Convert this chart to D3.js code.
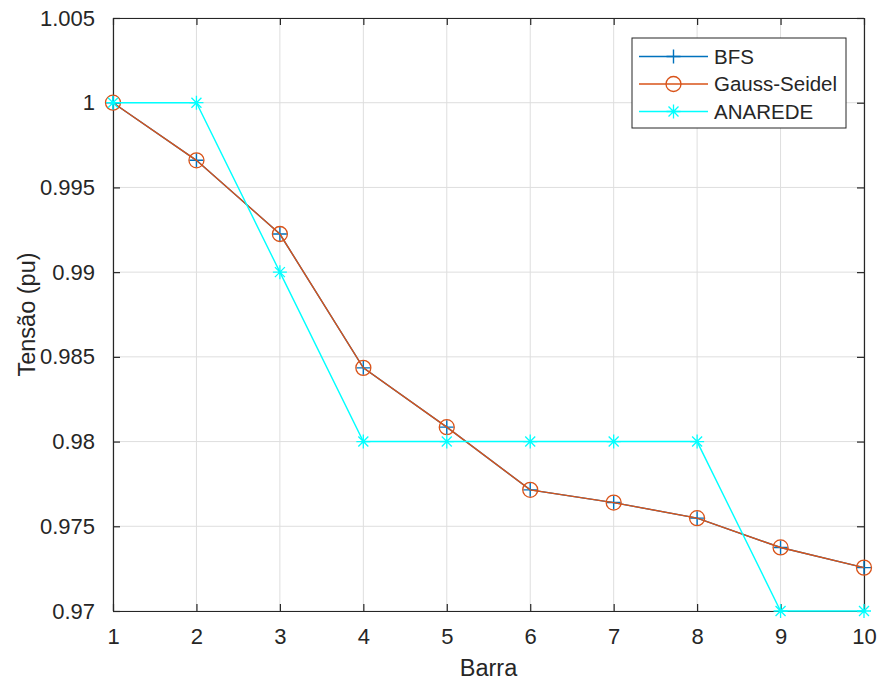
<!DOCTYPE html>
<html>
<head>
<meta charset="utf-8">
<script src="https://cdn.jsdelivr.net/npm/d3@7"></script>
<style>
  body { margin: 0; background: #fff; }
  text { font-family: "Liberation Sans", Arial, sans-serif; fill: #262626; }
</style>
</head>
<body>
<div id="chart"></div>
<script>
// data
var barras = [1, 2, 3, 4, 5, 6, 7, 8, 9, 10];
var bfs = [1.0, 0.9966, 0.99225, 0.98435, 0.98085, 0.97715, 0.9764, 0.97548, 0.97375, 0.97256];
var gaussSeidel = [1.0, 0.9966, 0.99225, 0.98435, 0.98085, 0.97715, 0.9764, 0.97548, 0.97375, 0.97256];
var anarede = [1.0, 1.0, 0.99, 0.98, 0.98, 0.98, 0.98, 0.98, 0.97, 0.97];
var yTicks = [0.97, 0.975, 0.98, 0.985, 0.99, 0.995, 1, 1.005];
var seriesNames = ["BFS", "Gauss-Seidel", "ANAREDE"];
var seriesColors = ["#0072BD", "#D95319", "#00FFFF"];

var width = 880, height = 682;
var margin = {top: 18, right: 16, bottom: 71, left: 113};
var w = width - margin.left - margin.right,
    h = height - margin.top - margin.bottom;

var svg = d3.select("#chart").append("svg")
    .attr("width", width)
    .attr("height", height);

var g = svg.append("g")
    .attr("transform", "translate(" + margin.left + "," + margin.top + ")");

var xScale = d3.scaleLinear().domain([1, 10]).range([0, w]);
var yScale = d3.scaleLinear().domain([0.97, 1.005]).range([h, 0]);

//grid
g.selectAll(".gx").data(barras).enter().append("line")
    .attr("x1", function(d) { return xScale(d); })
    .attr("x2", function(d) { return xScale(d); })
    .attr("y1", 0).attr("y2", h)
    .attr("stroke", "#dedede").attr("stroke-width", 1);
g.selectAll(".gy").data(yTicks).enter().append("line")
    .attr("y1", function(d) { return yScale(d); })
    .attr("y2", function(d) { return yScale(d); })
    .attr("x1", 0).attr("x2", w)
    .attr("stroke", "#dedede").attr("stroke-width", 1);

//axes (ticks inward, on all sides)
var tickLen = 7;
var xAxis = d3.axisBottom(xScale).tickValues(barras).tickSizeInner(-tickLen).tickSizeOuter(0).tickPadding(tickLen + 10).tickFormat(d3.format("d"));
var yAxis = d3.axisLeft(yScale).tickValues(yTicks).tickSizeInner(-tickLen).tickSizeOuter(0).tickPadding(tickLen + 11).tickFormat(function(d) { return d3.format("")(+d.toFixed(3)); });
var xTop = d3.axisTop(xScale).tickValues(barras).tickSizeInner(-tickLen).tickSizeOuter(0).tickFormat("");
var yRight = d3.axisRight(yScale).tickValues(yTicks).tickSizeInner(-tickLen).tickSizeOuter(0).tickFormat("");

var gx = g.append("g").attr("class", "x axis").attr("transform", "translate(0," + h + ")").call(xAxis);
var gy = g.append("g").attr("class", "y axis").call(yAxis);
var gt = g.append("g").call(xTop);
var gr = g.append("g").attr("transform", "translate(" + w + ",0)").call(yRight);

[gx, gy, gt, gr].forEach(function(a) {
    a.select(".domain").attr("stroke", "#262626").attr("stroke-width", 1.2);
    a.selectAll(".tick line").attr("stroke", "#262626").attr("stroke-width", 1.2);
    a.selectAll("text").style("font-size", "22px").attr("fill", "#262626");
});
gx.selectAll(".tick text").attr("dy", "0.71em");

//labels
svg.append("text")
    .attr("text-anchor", "middle")
    .attr("x", margin.left + w / 2)
    .attr("y", 676)
    .style("font-size", "23.5px")
    .text("Barra");
svg.append("text")
    .attr("text-anchor", "middle")
    .attr("transform", "translate(35," + (margin.top + h / 2) + ")rotate(-90)")
    .style("font-size", "23.5px")
    .text("Tensão (pu)");

//lines
var line = d3.line()
    .x(function(d, i) { return xScale(barras[i]); })
    .y(function(d) { return yScale(d); });

var allSeries = [bfs, gaussSeidel, anarede];

function drawMarker(sel, type, color) {
    if (type === 0) {
        sel.append("path").attr("d", "M-7,0H7M0,-7V7")
            .attr("stroke", color).attr("stroke-width", 1.4).attr("fill", "none");
    } else if (type === 1) {
        sel.append("circle").attr("r", 7.5)
            .attr("stroke", color).attr("stroke-width", 1.3).attr("fill", "none");
    } else {
        sel.append("path").attr("d", "M-7,0H7M0,-7V7M-5,-5L5,5M-5,5L5,-5")
            .attr("stroke", color).attr("stroke-width", 1.3).attr("fill", "none");
    }
}

allSeries.forEach(function(s, k) {
    g.append("path").datum(s)
        .attr("d", line)
        .attr("fill", "none")
        .attr("stroke", seriesColors[k])
        .attr("stroke-width", 1.4);
    s.forEach(function(v, i) {
        var m = g.append("g").attr("transform", "translate(" + xScale(barras[i]) + "," + yScale(v) + ")");
        drawMarker(m, k, seriesColors[k]);
    });
});

//legend
var legend = svg.append("g").attr("transform", "translate(632,38)");
legend.append("rect")
    .attr("width", 214).attr("height", 90)
    .attr("fill", "#fff").attr("stroke", "#262626").attr("stroke-width", 1);
seriesNames.forEach(function(name, k) {
    var yy = 18.5 + k * 27.5;
    legend.append("line")
        .attr("x1", 7).attr("x2", 76).attr("y1", yy).attr("y2", yy)
        .attr("stroke", seriesColors[k]).attr("stroke-width", 1.4);
    var m = legend.append("g").attr("transform", "translate(41.5," + yy + ")");
    drawMarker(m, k, seriesColors[k]);
    legend.append("text")
        .attr("x", 82).attr("y", yy).attr("dy", "0.35em")
        .style("font-size", "20.5px")
        .text(name);
});
</script>
</body>
</html>
